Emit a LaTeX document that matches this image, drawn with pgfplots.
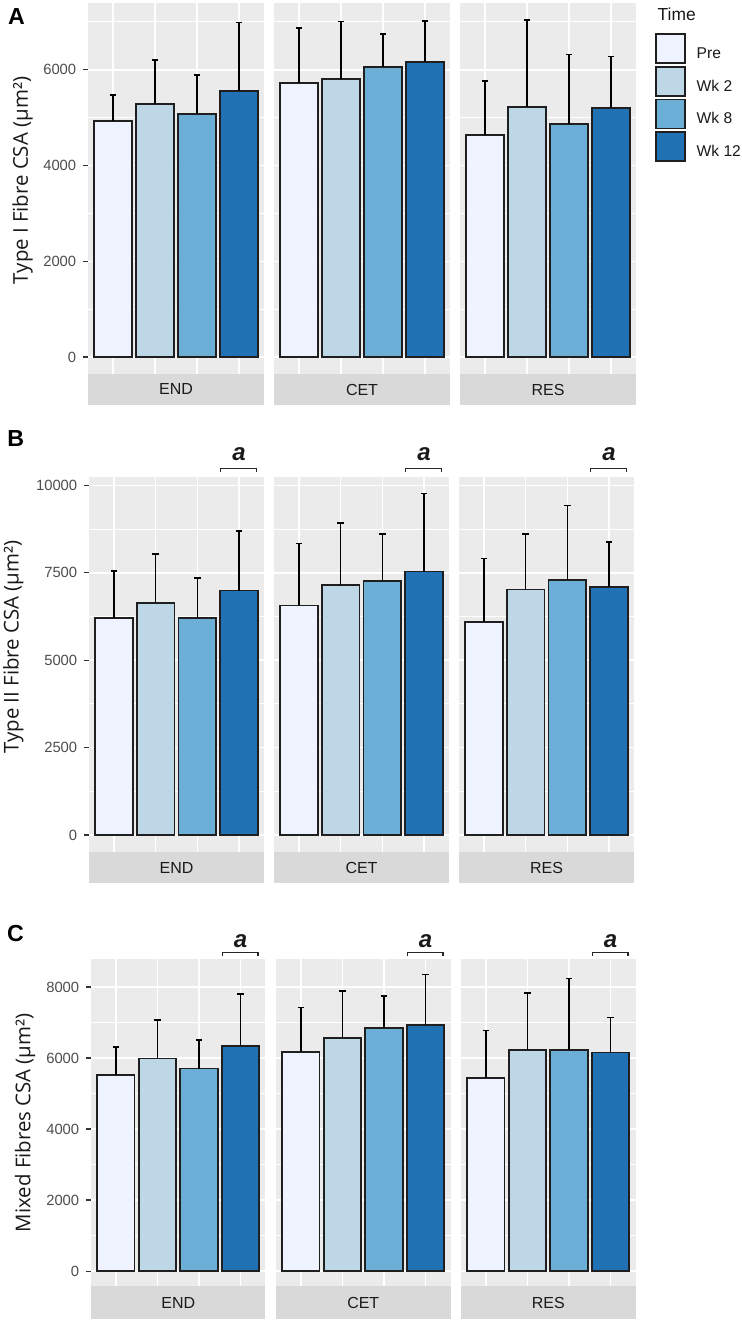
\documentclass[border=0pt]{standalone}
\usepackage{pgfplots}
\pgfplotsset{compat=1.18}
\usepackage{fontspec}
\setmainfont{Liberation Sans}
\newfontfamily\titlefont{Open Sans}
\definecolor{cPre}{HTML}{EFF3FF}
\definecolor{cW2}{HTML}{BDD7E7}
\definecolor{cW8}{HTML}{6BAED6}
\definecolor{cW12}{HTML}{2171B5}
\definecolor{panelbg}{HTML}{EBEBEB}
\definecolor{stripbg}{HTML}{D9D9D9}
\definecolor{ticktext}{HTML}{4D4D4D}
\definecolor{tickline}{HTML}{333333}
\definecolor{striptext}{HTML}{1A1A1A}
\newcommand\stripfont{\fontsize{8}{9}\selectfont}
\newcommand\sigfont{\fontsize{12}{13}\selectfont\bfseries\itshape}
\pgfplotsset{
  gg/.style={
    scale only axis, clip=false,
    axis background/.style={fill=panelbg},
    axis line style={draw=none},
    xmin=0.4, xmax=4.6,
    xtick={1,2,3,4}, xticklabels={}, xmajorticks=false,
    xmajorgrids, ymajorgrids, yminorgrids,
    major grid style={white, line width=0.75pt},
    minor grid style={white, line width=0.4pt},
    tick align=outside, major tick length=2.5pt, minor tick length=0pt,
    every tick/.style={tickline, line width=0.65pt},
    ytick pos=left,
    scaled y ticks=false,
    /pgf/number format/assume math mode=true,
    /pgf/number format/set thousands separator={},
    yticklabel style={font=\fontsize{7.4}{8}\selectfont, text=ticktext, inner sep=0pt, anchor=east, xshift=-3.2pt},
  },
  left/.style={gg},
  inner/.style={gg, ymajorticks=false, yticklabels={}},
  gbar/.style={ybar, bar width=0.9, bar shift=0pt, draw=black!88, line width=0.85pt, fill=#1,
    /pgfplots/error bars/y dir=plus, /pgfplots/error bars/y explicit,
    /pgfplots/error bars/error bar style={black, line width=0.8pt},
    /pgfplots/error bars/error mark options={rotate=90, black, line width=0.8pt, mark size=1.6pt},
    /pgfplots/legend image code/.code={\draw[fill=#1, draw=black!88, line width=0.85pt] (0pt,-4.45pt) rectangle (14.5pt,10.05pt);}},
  rowA/.style={width=88pt, height=185.5pt, ymin=-352, ymax=7394, ytick={0,2000,4000,6000}, minor ytick={1000,3000,5000,7000}},
  rowB/.style={width=87.5pt, height=187.65pt, ymin=-488, ymax=10248, ytick={0,2500,5000,7500,10000}, minor ytick={1250,3750,6250,8750}},
  rowC/.style={width=87.25pt, height=163.35pt, ymin=-418, ymax=8778, ytick={0,2000,4000,6000,8000}, minor ytick={1000,3000,5000,7000}},
  every axis y label/.style={at={(rel axis cs:0,0.5)}, anchor=center, font=\titlefont\fontsize{10.2}{12}\selectfont, text=black!90},
}
\newcommand\fourbars[8]{%
  \addplot[gbar=cPre] coordinates {(1,#1) +- (0,#2)};
  \addplot[gbar=cW2] coordinates {(2,#3) +- (0,#4)};
  \addplot[gbar=cW8] coordinates {(3,#5) +- (0,#6)};
  \addplot[gbar=cW12] coordinates {(4,#7) +- (0,#8)};
}
\newcommand\strip[2]{%
  \fill[stripbg] (rel axis cs:0,0) rectangle ([yshift=-#2]rel axis cs:1,0);
  \node[font=\stripfont, text=striptext, inner sep=0pt] at ([yshift=-#2/2]rel axis cs:0.5,0) {#1};
}
\newcommand\sig[2]{%
  \draw[black!85, line width=0.65pt] ([yshift=#1-1.65pt]rel axis cs:0.752,1) -- ([yshift=#1]rel axis cs:0.752,1) -- ([yshift=#1]rel axis cs:0.957,1) -- ([yshift=#1-1.65pt]rel axis cs:0.957,1);
  \node[font=\sigfont, text=black!90, inner sep=0pt] at ([yshift=#2]rel axis cs:0.857,1) {a};
}
\begin{document}
\begin{tikzpicture}
% ---------- Row A ----------
\begin{axis}[left, rowA, at={(44pt,-1.5pt)}, anchor=north west,
  ylabel={Type I Fibre CSA (µm²)}, ylabel style={xshift=-32.75pt, yshift=4pt, rotate=90}]
\fourbars{4929}{542}{5284}{924}{5075}{821}{5554}{1431}
\strip{END}{15.5pt}
\end{axis}
\begin{axis}[inner, rowA, at={(137pt,-1.5pt)}, anchor=north west]
\fourbars{5729}{1138}{5813}{1193}{6063}{687}{6158}{855}
\strip{CET}{15.5pt}
\end{axis}
\begin{axis}[inner, rowA, at={(230pt,-1.5pt)}, anchor=north west,
  legend style={at={(rel axis cs:1,1)}, anchor=north west, xshift=9.5pt, yshift=-15.15pt,
    draw=none, fill=none, inner sep=0pt, outer sep=0pt, row sep=1pt, column sep=5.5pt,
    font=\fontsize{7.8}{9}\selectfont, text=black!90, cells={anchor=west}, nodes={inner sep=0pt}},
  legend cell align=left]
\fourbars{4631}{1140}{5229}{1813}{4867}{1452}{5208}{1069}
\legend{Pre,Wk 2,Wk 8,Wk 12}
\strip{RES}{15.5pt}
\end{axis}
% ---------- Row B ----------
\begin{axis}[left, rowB, at={(44.5pt,-238.35pt)}, anchor=north west,
  ylabel={Type II Fibre CSA (µm²)}, ylabel style={xshift=-37.85pt, yshift=8.7pt, rotate=90}]
\fourbars{6200}{1343}{6638}{1391}{6210}{1142}{6990}{1705}
\strip{END}{15.65pt}
\sig{4.2pt}{11.1pt}
\end{axis}
\begin{axis}[inner, rowB, at={(137pt,-238.35pt)}, anchor=north west]
\fourbars{6562}{1771}{7152}{1772}{7267}{1343}{7533}{2229}
\strip{CET}{15.65pt}
\sig{4.2pt}{11.1pt}
\end{axis}
\begin{axis}[inner, rowB, at={(229.5pt,-238.35pt)}, anchor=north west]
\fourbars{6086}{1819}{7019}{1591}{7295}{2124}{7086}{1295}
\strip{RES}{15.65pt}
\sig{4.2pt}{11.1pt}
\end{axis}
% ---------- Row C ----------
\begin{axis}[left, rowC, at={(45.5pt,-479.65pt)}, anchor=north west,
  ylabel={Mixed Fibres CSA (µm²)}, ylabel style={xshift=-33pt, yshift=0pt, rotate=90}]
\fourbars{5525}{778}{5983}{1079}{5702}{806}{6340}{1469}
\strip{END}{16.5pt}
\sig{3.25pt}{9.25pt}
\end{axis}
\begin{axis}[inner, rowC, at={(138pt,-479.65pt)}, anchor=north west]
\fourbars{6171}{1256}{6565}{1320}{6837}{916}{6938}{1416}
\strip{CET}{16.5pt}
\sig{3.25pt}{9.25pt}
\end{axis}
\begin{axis}[inner, rowC, at={(230.5pt,-479.65pt)}, anchor=north west]
\fourbars{5432}{1338}{6228}{1609}{6228}{2014}{6152}{983}
\strip{RES}{16.5pt}
\sig{3.25pt}{9.25pt}
\end{axis}
% ---------- panel letters & legend title ----------
\node[font=\bfseries\fontsize{11.6}{12}\selectfont, inner sep=0pt] at (8.25pt,-8.1pt) {A};
\node[font=\bfseries\fontsize{11.6}{12}\selectfont, inner sep=0pt] at (7.85pt,-219.15pt) {B};
\node[font=\bfseries\fontsize{11.6}{12}\selectfont, inner sep=0pt] at (7.75pt,-466.75pt) {C};
\node[font=\fontsize{8.7}{10}\selectfont, text=black!90, inner sep=0pt, anchor=west] at (328.65pt,-7.25pt) {Time};
\pgfresetboundingbox
\path[use as bounding box] (0,0) rectangle (371pt,-661pt);
\end{tikzpicture}
\end{document}
